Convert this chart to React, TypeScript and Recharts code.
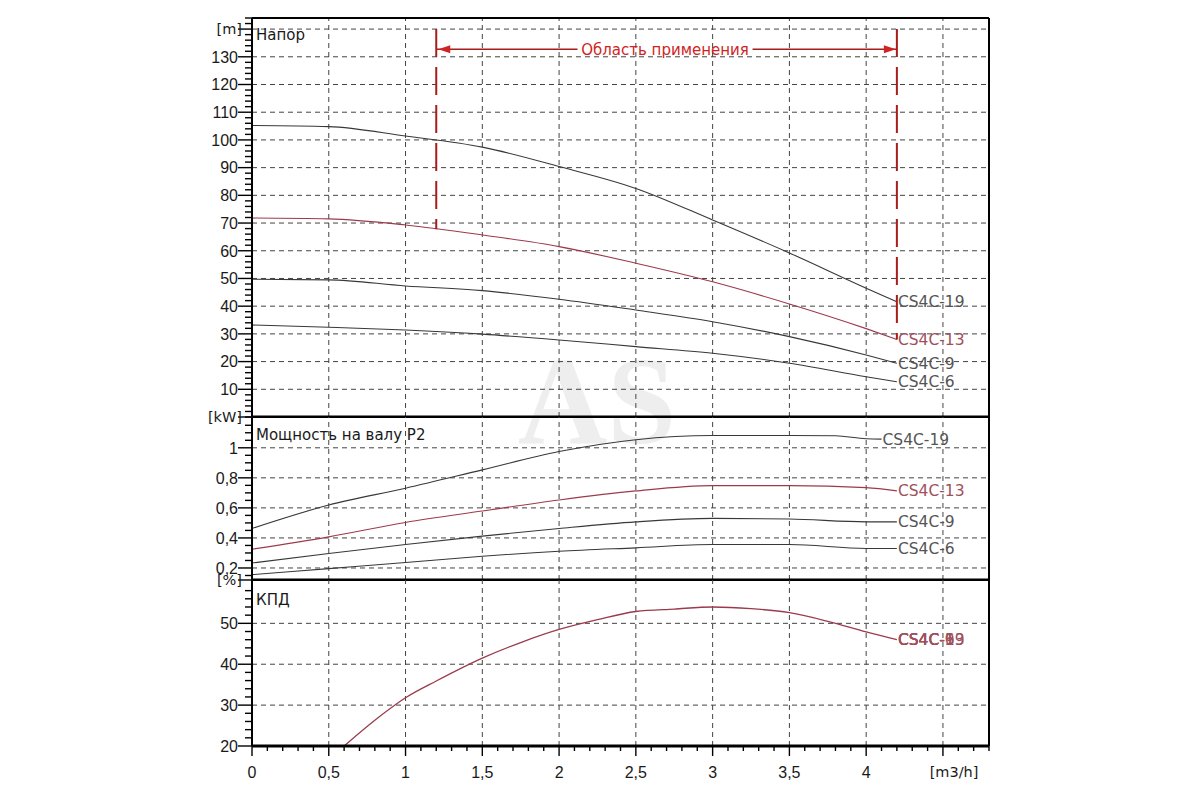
import React from 'react';
import { LineChart, Line, XAxis, YAxis, ReferenceLine, ReferenceDot } from 'recharts';

const FONT = '"DejaVu Sans", Verdana, sans-serif';
const NUM_FONT = '"Liberation Sans", Arial, Helvetica, sans-serif';
const INK = '#000000';
const GRID = '#444444';
const DARK = '#383838';
const RED = '#9c3a4c';
const RED_LABEL = '#a0505c';
const DARK_LABEL = '#555555';
const ZONE = '#a81c1c';
const ZONE_TEXT = '#d02424';

// Flow rates (m3/h)
const qHead = [0, 0.5, 1, 1.5, 2, 2.5, 3, 3.5, 4, 4.2];
const head19 = [105.2, 104.8, 101.4, 97.4, 90.4, 82.5, 71.1, 59.2, 46.5, 41.6];
const head13 = [71.8, 71.5, 69.3, 65.7, 61.5, 55.5, 48.8, 40.8, 31.9, 28.0];
const head9 = [49.7, 49.5, 47.3, 45.6, 42.5, 38.6, 34.4, 29.0, 22.4, 19.4];
const head6 = [33.2, 32.4, 31.4, 29.9, 27.8, 25.4, 23.0, 19.4, 14.5, 12.7];

const qPower19 = [0, 0.5, 1, 1.5, 2, 2.5, 3, 3.5, 3.8, 4, 4.1];
const power19 = [0.463, 0.619, 0.731, 0.853, 0.975, 1.054, 1.082, 1.082, 1.08, 1.06, 1.058];
const qPower = [0, 0.5, 1, 1.5, 2, 2.5, 3, 3.5, 4, 4.2];
const power13 = [0.325, 0.407, 0.503, 0.579, 0.653, 0.713, 0.748, 0.748, 0.735, 0.713];
const power9 = [0.233, 0.296, 0.356, 0.412, 0.463, 0.507, 0.53, 0.526, 0.507, 0.507];
const power6 = [0.156, 0.196, 0.236, 0.278, 0.311, 0.334, 0.356, 0.356, 0.33, 0.33];

const qEff = [0.6, 0.8, 1.0, 1.2, 1.5, 1.75, 2.0, 2.25, 2.5, 2.75, 3.0, 3.25, 3.5, 3.75, 4.0, 4.2];
const eff = [20, 26.3, 31.8, 35.9, 41.5, 45.3, 48.5, 50.9, 52.9, 53.5, 54.0, 53.6, 52.6, 50.5, 47.9, 46.0];

const models = ['CS4C-19', 'CS4C-13', 'CS4C-9', 'CS4C-6'];

// Application range
const zoneFrom = 1.2;
const zoneTo = 4.2;
const zoneTop = 140;
const zoneLeftBottom = 67.8;
const zoneRightBottom = 28.0;
const zoneArrowY = 132.7;
const zoneTextGapFrom = 2.12;
const zoneTextGapTo = 3.26;
const zoneLabel = 'Область применения';

// Panel titles / units
const titles = ['Напор', 'Мощность на валу P2', 'КПД'];
const flowUnit = '[m3/h]';

// Axes
const X_DOMAIN: [number, number] = [0, 4.8];
const HEAD_DOMAIN: [number, number] = [0, 144];
const POWER_DOMAIN: [number, number] = [0.12, 1.205];
const EFF_DOMAIN: [number, number] = [20, 60.6];

const xGrid = [0.5, 1, 1.5, 2, 2.5, 3, 3.5, 4, 4.5];
const xMajor = [0, 0.5, 1, 1.5, 2, 2.5, 3, 3.5, 4, 4.5];
const xLabels = ['0', '0,5', '1', '1,5', '2', '2,5', '3', '3,5', '4', ''];
const xTicks = Array.from({ length: 49 }, (_, i) => i / 10);

const headGrid = [10, 20, 30, 40, 50, 60, 70, 80, 90, 100, 110, 120, 130, 140];
const headMajor = [10, 20, 30, 40, 50, 60, 70, 80, 90, 100, 110, 120, 130, 140];
const headLabels = ['10', '20', '30', '40', '50', '60', '70', '80', '90', '100', '110', '120', '130', '[m]'];
const headTicks = Array.from({ length: 73 }, (_, i) => i * 2);

const powerGrid = [0.2, 0.4, 0.6, 0.8, 1.0];
const powerMajor = [0.2, 0.4, 0.6, 0.8, 1.0, 1.205];
const powerLabels = ['0,2', '0,4', '0,6', '0,8', '1', '[kW]'];
const powerTicks = [...Array.from({ length: 21 }, (_, i) => Math.round((0.15 + i * 0.05) * 100) / 100), 1.205];

const effGrid = [30, 40, 50];
const effMajor = [20, 30, 40, 50, 60.6];
const effLabels = ['20', '30', '40', '50', '[%]'];
const effTicks = [...Array.from({ length: 20 }, (_, i) => 20 + i * 2), 60.6];

const rows = (q: number[], v: number[]) => q.map((x, i) => ({ q: x, v: v[i] }));

const near = (a: number, b: number) => Math.abs(a - b) < 1e-6;

const makeYTick = (major: number[], labels: string[]) => (props: any) => {
  const { x, y, payload } = props;
  const v = payload.value;
  const idx = major.findIndex((m) => near(m, v));
  const isMajor = idx >= 0;
  const len = isMajor ? 14 : 7;
  const lab = isMajor ? labels[idx] : '';
  const isUnit = lab.startsWith('[');
  return (
    <g>
      <line x1={x - len} x2={x} y1={y} y2={y} stroke={INK} strokeWidth={1.4} />
      {lab ? (
        <text
          x={x - (isUnit ? 10 : 14)}
          y={y}
          dy="0.36em"
          textAnchor="end"
          fontFamily={isUnit ? FONT : NUM_FONT}
          fontSize={isUnit ? 14.5 : 16}
          fill="#1a1a1a"
        >
          {lab}
        </text>
      ) : null}
    </g>
  );
};

const XTick = (props: any) => {
  const { x, y, payload } = props;
  const v = payload.value;
  const idx = xMajor.findIndex((m) => near(m, v));
  const isMajor = idx >= 0;
  const len = isMajor ? 10 : 5;
  return (
    <g>
      <line x1={x} x2={x} y1={y} y2={y + len} stroke={INK} strokeWidth={1.4} />
      {isMajor && xLabels[idx] ? (
        <text x={x} y={y + 26} dy="0.36em" textAnchor="middle" fontFamily={NUM_FONT} fontSize={16} fill="#1a1a1a">
          {xLabels[idx]}
        </text>
      ) : null}
    </g>
  );
};

const endLabel = (texts: string[], color: string) => (p: any) => (
  <g>
    {texts.map((t) => (
      <text key={t} x={p.cx + 1} y={p.cy} dy="0.36em" fontFamily={FONT} fontSize={15.5} fill={color}>
        {t}
      </text>
    ))}
  </g>
);

const arrowLeft = (p: any) => (
  <polygon points={`${p.cx + 2},${p.cy} ${p.cx + 14},${p.cy - 4} ${p.cx + 14},${p.cy + 4}`} fill={ZONE_TEXT} />
);
const arrowRight = (p: any) => (
  <polygon points={`${p.cx - 1},${p.cy} ${p.cx - 13},${p.cy - 4} ${p.cx - 13},${p.cy + 4}`} fill={ZONE_TEXT} />
);
const zoneText = (p: any) => (
  <text x={p.cx} y={p.cy} dy="0.36em" textAnchor="middle" fontFamily={FONT} fontSize={15} fill={ZONE_TEXT}>
    {zoneLabel}
  </text>
);

const gridLinesX = () =>
  xGrid.map((x) => <ReferenceLine key={`gx${x}`} x={x} stroke={GRID} strokeWidth={1} strokeDasharray="5 4" />);
const gridLinesY = (vals: number[]) =>
  vals.map((y) => <ReferenceLine key={`gy${y}`} y={y} stroke={GRID} strokeWidth={1} strokeDasharray="5 4" />);

const curve = (key: string, data: { q: number; v: number }[], color: string, w = 1.1) => (
  <Line
    key={key}
    data={data}
    dataKey="v"
    type="monotone"
    stroke={color}
    strokeWidth={w}
    dot={false}
    activeDot={false}
    isAnimationActive={false}
  />
);

const last = (a: number[]) => a[a.length - 1];

export default function App() {
  const headSeries = [head19, head13, head9, head6];
  const powerSeries = [power19, power13, power9, power6];
  const powerFlows = [qPower19, qPower, qPower, qPower];
  const colors = [DARK, RED, DARK, DARK];
  const labelColors = [DARK_LABEL, RED_LABEL, DARK_LABEL, DARK_LABEL];

  return (
    <div style={{ position: 'absolute', left: 0, top: 0, width: 1200, height: 800, background: '#fff', overflow: 'hidden' }}>
      <svg width={1200} height={800} style={{ position: 'absolute', left: 0, top: 0 }}>
        <text x={597} y={443} textAnchor="middle" fontFamily='"Liberation Serif", "DejaVu Serif", serif' fontWeight="bold" fontSize={124} fill="#eeeeee">
          AS
        </text>
      </svg>

      {/* Head panel */}
      <div style={{ position: 'absolute', left: 0, top: 0 }}>
        <LineChart width={1200} height={418} margin={{ top: 18, right: 211, bottom: 1, left: 0 }}>
          <XAxis type="number" dataKey="q" domain={X_DOMAIN} hide allowDataOverflow />
          <YAxis
            type="number"
            domain={HEAD_DOMAIN}
            ticks={headTicks}
            interval={0}
            width={252}
            tickSize={0}
            tickMargin={0}
            tickLine={false}
            axisLine={{ stroke: INK, strokeWidth: 2 }}
            tick={makeYTick(headMajor, headLabels)}
            allowDataOverflow
          />
          {gridLinesX()}
          {gridLinesY(headGrid)}
          <ReferenceLine y={HEAD_DOMAIN[1]} stroke={INK} strokeWidth={2} />
          <ReferenceLine y={HEAD_DOMAIN[0]} stroke={INK} strokeWidth={3} />
          <ReferenceLine x={X_DOMAIN[1]} stroke={INK} strokeWidth={2} />
          {headSeries.map((s, i) => curve(`h${i}`, rows(qHead, s), colors[i]))}
          <ReferenceLine segment={[{ x: zoneFrom, y: zoneTop }, { x: zoneFrom, y: zoneLeftBottom }]} stroke={ZONE} strokeWidth={2} strokeDasharray="28 10" />
          <ReferenceLine segment={[{ x: zoneTo, y: zoneTop }, { x: zoneTo, y: zoneRightBottom }]} stroke={ZONE} strokeWidth={2} strokeDasharray="28 10" />
          <ReferenceLine segment={[{ x: zoneFrom, y: zoneArrowY }, { x: zoneTextGapFrom, y: zoneArrowY }]} stroke={ZONE} strokeWidth={1.5} />
          <ReferenceLine segment={[{ x: zoneTextGapTo, y: zoneArrowY }, { x: zoneTo, y: zoneArrowY }]} stroke={ZONE} strokeWidth={1.5} />
          <ReferenceDot x={zoneFrom} y={zoneArrowY} r={0} shape={arrowLeft} />
          <ReferenceDot x={zoneTo} y={zoneArrowY} r={0} shape={arrowRight} />
          <ReferenceDot x={(zoneTextGapFrom + zoneTextGapTo) / 2} y={zoneArrowY} r={0} shape={zoneText} />
          {headSeries.map((s, i) => (
            <ReferenceDot key={`hl${i}`} x={last(qHead)} y={last(s)} r={0} shape={endLabel([models[i]], labelColors[i])} />
          ))}
        </LineChart>
      </div>

      {/* Power panel */}
      <div style={{ position: 'absolute', left: 0, top: 0 }}>
        <LineChart width={1200} height={581} margin={{ top: 417, right: 211, bottom: 1, left: 0 }}>
          <XAxis type="number" dataKey="q" domain={X_DOMAIN} hide allowDataOverflow />
          <YAxis
            type="number"
            domain={POWER_DOMAIN}
            ticks={powerTicks}
            interval={0}
            width={252}
            tickSize={0}
            tickMargin={0}
            tickLine={false}
            axisLine={{ stroke: INK, strokeWidth: 2 }}
            tick={makeYTick(powerMajor, powerLabels)}
            allowDataOverflow
          />
          {gridLinesX()}
          {gridLinesY(powerGrid)}
          <ReferenceLine y={POWER_DOMAIN[0]} stroke={INK} strokeWidth={3} />
          <ReferenceLine x={X_DOMAIN[1]} stroke={INK} strokeWidth={2} />
          {powerSeries.map((s, i) => curve(`p${i}`, rows(powerFlows[i], s), colors[i]))}
          {powerSeries.map((s, i) => (
            <ReferenceDot key={`pl${i}`} x={last(powerFlows[i])} y={last(s)} r={0} shape={endLabel([models[i]], labelColors[i])} />
          ))}
        </LineChart>
      </div>

      {/* Efficiency panel */}
      <div style={{ position: 'absolute', left: 0, top: 0 }}>
        <LineChart width={1200} height={800} margin={{ top: 580, right: 211, bottom: 0, left: 0 }}>
          <XAxis
            type="number"
            dataKey="q"
            domain={X_DOMAIN}
            ticks={xTicks}
            interval={0}
            height={54}
            tickSize={0}
            tickMargin={0}
            tickLine={false}
            axisLine={{ stroke: INK, strokeWidth: 3 }}
            tick={XTick}
            allowDataOverflow
          />
          <YAxis
            type="number"
            domain={EFF_DOMAIN}
            ticks={effTicks}
            interval={0}
            width={252}
            tickSize={0}
            tickMargin={0}
            tickLine={false}
            axisLine={{ stroke: INK, strokeWidth: 2 }}
            tick={makeYTick(effMajor, effLabels)}
            allowDataOverflow
          />
          {gridLinesX()}
          {gridLinesY(effGrid)}
          <ReferenceLine x={X_DOMAIN[1]} stroke={INK} strokeWidth={2} />
          {curve('eff', rows(qEff, eff), RED, 1.3)}
          <ReferenceDot x={last(qEff)} y={last(eff)} r={0} shape={endLabel(models, RED_LABEL)} />
        </LineChart>
      </div>

      <svg width={1200} height={800} style={{ position: 'absolute', left: 0, top: 0, pointerEvents: 'none' }}>
        <g fontFamily={FONT} fontSize={15} fill="#1a1a1a">
          <text x={256} y={40}>{titles[0]}</text>
          <text x={256} y={440}>{titles[1]}</text>
          <text x={256} y={605}>{titles[2]}</text>
          <text x={954} y={772} dy="0.36em" textAnchor="middle" fontSize={14.5}>{flowUnit}</text>
        </g>
      </svg>
    </div>
  );
}
